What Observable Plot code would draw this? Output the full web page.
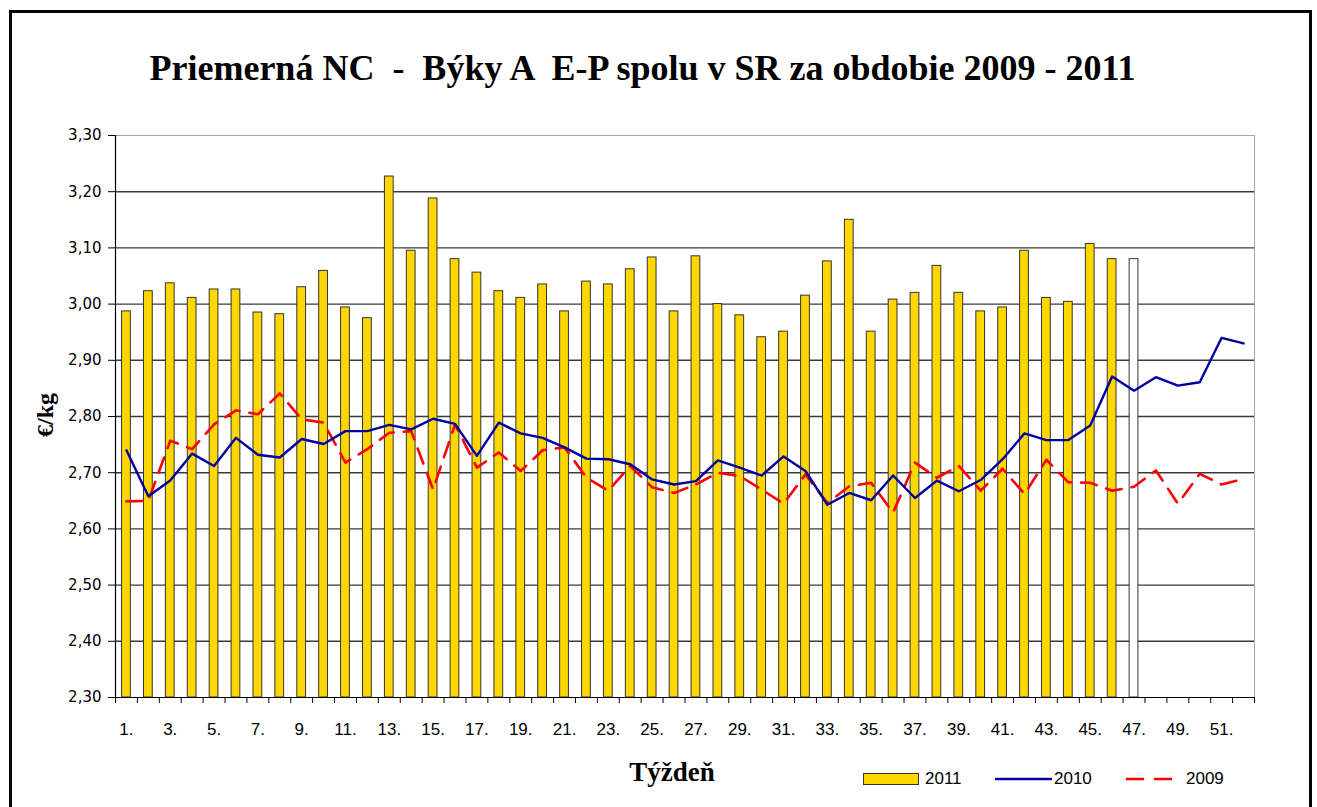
<!DOCTYPE html>
<html><head><meta charset="utf-8">
<script src="https://cdn.jsdelivr.net/npm/d3@7"></script>
<script src="https://cdn.jsdelivr.net/npm/@observablehq/plot@0.6"></script>
<style>
body{margin:0;background:#fff;}
#wrap{position:relative;width:1317px;height:807px;overflow:hidden;background:#fff;}
#frame{position:absolute;left:9px;top:10px;width:1303px;height:900px;border:3px solid #000;box-sizing:border-box;}
#chart{position:absolute;left:0;top:0;}
#title{position:absolute;left:0;width:1285px;top:47px;text-align:center;font:bold 36px "Liberation Serif",serif;white-space:pre;color:#000;}
#ylab{position:absolute;left:45px;top:415px;transform:translate(-50%,-50%) rotate(-90deg);font:bold 24px "Liberation Serif",serif;white-space:pre;}
#xlab{position:absolute;left:672px;top:772px;transform:translate(-50%,-50%);font:bold 27px "Liberation Serif",serif;}
.lg{position:absolute;top:779px;transform:translateY(-50%);font:17px "Liberation Sans",sans-serif;}
</style></head>
<body><div id="wrap"><div id="frame"></div><div id="chart"></div>
<div id="title"></div><div id="ylab"></div><div id="xlab"></div><div id="legend"></div></div>
<script>
const titleText = "Priemerná NC  -  Býky A  E-P spolu v SR za obdobie 2009 - 2011";
const yLabel = "€/kg";
const xLabel = "Týždeň";
const weeks = d3.range(1, 53);
const xTickWeeks = weeks.filter(w => w % 2 === 1);
const yTicks = [2.30, 2.40, 2.50, 2.60, 2.70, 2.80, 2.90, 3.00, 3.10, 3.20, 3.30];
const series = ["2011", "2010", "2009"];
const values2011 = [2.987, 3.023, 3.037, 3.011, 3.026, 3.026, 2.985, 2.982, 3.030, 3.059,
  2.994, 2.975, 3.227, 3.095, 3.188, 3.080, 3.056, 3.023, 3.011, 3.035,
  2.987, 3.040, 3.035, 3.062, 3.083, 2.987, 3.085, 3.000, 2.980, 2.941,
  2.951, 3.015, 3.076, 3.150, 2.951, 3.008, 3.020, 3.068, 3.020, 2.987,
  2.994, 3.095, 3.011, 3.004, 3.107, 3.080, 3.080];
const provisionalWeek2011 = 47;
const values2010 = [2.740, 2.658, 2.686, 2.734, 2.712, 2.762, 2.732, 2.727, 2.760, 2.751,
  2.774, 2.774, 2.785, 2.777, 2.796, 2.787, 2.730, 2.789, 2.770, 2.762,
  2.745, 2.725, 2.724, 2.715, 2.688, 2.679, 2.685, 2.722, 2.709, 2.695,
  2.729, 2.703, 2.643, 2.664, 2.651, 2.695, 2.655, 2.686, 2.667, 2.687,
  2.724, 2.770, 2.758, 2.758, 2.784, 2.871, 2.846, 2.870, 2.855, 2.861,
  2.940, 2.930];
const values2009 = [2.649, 2.650, 2.757, 2.742, 2.786, 2.811, 2.804, 2.841, 2.795, 2.789,
  2.718, 2.742, 2.771, 2.774, 2.670, 2.786, 2.709, 2.736, 2.703, 2.740,
  2.745, 2.691, 2.668, 2.712, 2.674, 2.664, 2.679, 2.700, 2.694, 2.670,
  2.645, 2.697, 2.646, 2.676, 2.682, 2.629, 2.718, 2.691, 2.712, 2.668,
  2.707, 2.662, 2.723, 2.683, 2.682, 2.668, 2.675, 2.704, 2.645, 2.698,
  2.679, 2.689];

const bars = values2011.map((v, i) => ({week: weeks[i], value: v}));
const line2010 = values2010.map((v, i) => ({week: weeks[i], value: v}));
const line2009 = values2009.map((v, i) => ({week: weeks[i], value: v}));

const W = 1317, H = 807, mL = 115, mR = 63, mT = 135, mB = 110;
const step = (W - mL - mR) / weeks.length;
const yMin = yTicks[0], yMax = yTicks[yTicks.length - 1];
const tickLen = 6 * (yMax - yMin) / (H - mT - mB);
const gold = "#FFD700";
const fmt = d => d.toFixed(2).replace(".", ",");

const chart = Plot.plot({
  width: W, height: H, marginLeft: mL, marginRight: mR, marginTop: mT, marginBottom: mB,
  style: {background: "transparent", overflow: "visible"},
  x: {type: "band", domain: weeks, paddingInner: 0.6, paddingOuter: 0.3, axis: null, label: null},
  y: {domain: [yMin, yMax], axis: null, label: null},
  marks: [
    Plot.frame({stroke: "#a4a4b8", strokeWidth: 1}),
    Plot.ruleY(yTicks.slice(1, -1), {stroke: "#3a3a3a", strokeWidth: 1.4}),
    Plot.barY(bars, {x: "week", y1: yMin, y2: "value",
      fill: d => d.week === provisionalWeek2011 ? "#ffffff" : gold,
      stroke: "#333", strokeWidth: 1}),
    Plot.line(line2009, {x: "week", y: "value", stroke: "#FF0000", strokeWidth: 2.6, strokeDasharray: "16,10", strokeLinejoin: "round"}),
    Plot.line(line2010, {x: "week", y: "value", stroke: "#0000A0", strokeWidth: 2.4, strokeLinejoin: "round"}),
    Plot.ruleY([yMin], {stroke: "#000", strokeWidth: 1.2}),
    Plot.ruleX([weeks[0]], {y1: yMin, y2: yMax, dx: -step / 2, stroke: "#000", strokeWidth: 1.2}),
    Plot.ruleX(weeks, {y1: yMin, y2: yMin - tickLen, dx: -step / 2, stroke: "#000", strokeWidth: 1}),
    Plot.ruleX([weeks[weeks.length - 1]], {y1: yMin, y2: yMin - tickLen, dx: step / 2, stroke: "#000", strokeWidth: 1}),
    Plot.axisX({ticks: xTickWeeks, tickFormat: d => d + ".", tickSize: 0, tickPadding: 25, label: null,
      fontSize: 17, fontFamily: "Liberation Sans", fill: "#000"}),
    Plot.axisY({ticks: yTicks, tickFormat: fmt, tickSize: 7, tickPadding: 7, label: null,
      fontSize: 15, fontFamily: "DejaVu Sans", fill: "#000", stroke: "#000"})
  ]
});
document.getElementById("chart").appendChild(chart);
document.getElementById("title").textContent = titleText;
document.getElementById("ylab").textContent = yLabel;
document.getElementById("xlab").textContent = xLabel;

// legend
const legend = document.getElementById("legend");
const ns = "http://www.w3.org/2000/svg";
function swatch(left, width, kind) {
  const s = document.createElementNS(ns, "svg");
  s.setAttribute("width", width); s.setAttribute("height", 14);
  s.style.position = "absolute"; s.style.left = left + "px"; s.style.top = "772px";
  if (kind === "2011") {
    const r = document.createElementNS(ns, "rect");
    r.setAttribute("x", 0.5); r.setAttribute("y", 1.5); r.setAttribute("width", width - 1); r.setAttribute("height", 11);
    r.setAttribute("fill", gold); r.setAttribute("stroke", "#333");
    s.appendChild(r);
  } else {
    const l = document.createElementNS(ns, "line");
    l.setAttribute("x1", 0); l.setAttribute("x2", width); l.setAttribute("y1", 7); l.setAttribute("y2", 7);
    l.setAttribute("stroke", kind === "2010" ? "#0000A0" : "#FF0000");
    l.setAttribute("stroke-width", kind === "2010" ? 2.4 : 2.6);
    if (kind === "2009") l.setAttribute("stroke-dasharray", "18,10");
    s.appendChild(l);
  }
  legend.appendChild(s);
}
function label(left, text) {
  const d = document.createElement("div");
  d.className = "lg"; d.style.left = left + "px"; d.textContent = text;
  legend.appendChild(d);
}
swatch(863, 56, series[0]); label(925, series[0]);
swatch(995, 57, series[1]); label(1054, series[1]);
swatch(1126, 46, series[2]); label(1186, series[2]);
</script></body></html>
